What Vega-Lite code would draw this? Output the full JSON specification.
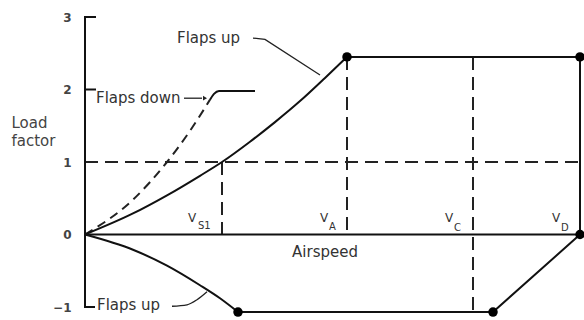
{
  "$schema": "https://vega.github.io/schema/vega-lite/v6.json",
  "width": 499,
  "height": 290,
  "autosize": "none",
  "padding": {"left": 85, "top": 17, "right": 0, "bottom": 13},
  "background": "white",
  "config": {"view": {"stroke": null}, "font": "DejaVu Sans"},
  "datasets": {
    "solid": [
      {"seg": "axis", "o": 1, "x": 11, "y": 3},
      {"seg": "axis", "o": 2, "x": 0, "y": 3},
      {"seg": "axis", "o": 3, "x": 0, "y": -1},
      {"seg": "axis", "o": 4, "x": 10, "y": -1},
      {"seg": "tick2", "o": 1, "x": 0, "y": 2},
      {"seg": "tick2", "o": 2, "x": 11, "y": 2},
      {"seg": "top", "o": 1, "x": 262, "y": 2.45},
      {"seg": "top", "o": 2, "x": 495, "y": 2.45},
      {"seg": "top", "o": 3, "x": 495, "y": 0},
      {"seg": "zero", "o": 1, "x": 0, "y": 0},
      {"seg": "zero", "o": 2, "x": 495, "y": 0},
      {"seg": "bottom", "o": 1, "x": 153, "y": -1.07},
      {"seg": "bottom", "o": 2, "x": 408, "y": -1.07},
      {"seg": "bottom", "o": 3, "x": 495, "y": 0}
    ],
    "curves": [
      {"seg": "up", "o": 1, "x": 0, "y": 0},
      {"seg": "up", "o": 2, "x": 48, "y": 0.29},
      {"seg": "up", "o": 3, "x": 82, "y": 0.54},
      {"seg": "up", "o": 4, "x": 115, "y": 0.81},
      {"seg": "up", "o": 5, "x": 137, "y": 1.0},
      {"seg": "up", "o": 6, "x": 165, "y": 1.28},
      {"seg": "up", "o": 7, "x": 190, "y": 1.55},
      {"seg": "up", "o": 8, "x": 215, "y": 1.84},
      {"seg": "up", "o": 9, "x": 240, "y": 2.16},
      {"seg": "up", "o": 10, "x": 262, "y": 2.45},
      {"seg": "fdhook", "o": 1, "x": 125, "y": 1.86},
      {"seg": "fdhook", "o": 2, "x": 129, "y": 1.94},
      {"seg": "fdhook", "o": 3, "x": 134, "y": 1.98},
      {"seg": "fdhook", "o": 4, "x": 170, "y": 1.98},
      {"seg": "neg", "o": 1, "x": 0, "y": 0},
      {"seg": "neg", "o": 2, "x": 48, "y": -0.21},
      {"seg": "neg", "o": 3, "x": 82, "y": -0.43},
      {"seg": "neg", "o": 4, "x": 115, "y": -0.7},
      {"seg": "neg", "o": 5, "x": 135, "y": -0.88},
      {"seg": "neg", "o": 6, "x": 153, "y": -1.07}
    ],
    "dashed": [
      {"seg": "n1", "o": 1, "x": 0, "y": 1},
      {"seg": "n1", "o": 2, "x": 499, "y": 1},
      {"seg": "vs1", "o": 1, "x": 137, "y": 1},
      {"seg": "vs1", "o": 2, "x": 137, "y": 0},
      {"seg": "va", "o": 1, "x": 262, "y": 2.45},
      {"seg": "va", "o": 2, "x": 262, "y": 0},
      {"seg": "vc", "o": 1, "x": 388, "y": 2.45},
      {"seg": "vc", "o": 2, "x": 388, "y": -1.07}
    ],
    "fd": [
      {"o": 1, "x": 0, "y": 0},
      {"o": 2, "x": 48, "y": 0.48},
      {"o": 3, "x": 82, "y": 1.0},
      {"o": 4, "x": 105, "y": 1.43},
      {"o": 5, "x": 125, "y": 1.86}
    ],
    "leaders": [
      {"seg": "l1", "o": 1, "x": 168, "y": 2.71},
      {"seg": "l1", "o": 2, "x": 180, "y": 2.69},
      {"seg": "l1", "o": 3, "x": 235, "y": 2.2},
      {"seg": "l2", "o": 1, "x": 99, "y": 1.88},
      {"seg": "l2", "o": 2, "x": 117, "y": 1.88}
    ],
    "leaderCurve": [
      {"o": 1, "x": 87, "y": -0.99},
      {"o": 2, "x": 102, "y": -0.97},
      {"o": 3, "x": 112, "y": -0.9},
      {"o": 4, "x": 122, "y": -0.79}
    ],
    "arrow": [{"x": 120, "y": 1.88}],
    "dots": [
      {"x": 262, "y": 2.45},
      {"x": 495, "y": 2.45},
      {"x": 495, "y": 0},
      {"x": 153, "y": -1.07},
      {"x": 408, "y": -1.07}
    ],
    "notes": [
      {"x": 92, "y": 2.71, "text": "Flaps up"},
      {"x": 11, "y": 1.88, "text": "Flaps down"},
      {"x": 12, "y": -0.97, "text": "Flaps up"}
    ],
    "center": [{"x": 240, "y": -0.24, "text": "Airspeed"}],
    "vmain": [
      {"x": 103, "y": 0.23, "text": "V"},
      {"x": 235, "y": 0.23, "text": "V"},
      {"x": 360, "y": 0.23, "text": "V"},
      {"x": 467, "y": 0.23, "text": "V"}
    ],
    "vsub": [
      {"x": 113, "y": 0.12, "text": "S1"},
      {"x": 244, "y": 0.11, "text": "A"},
      {"x": 369, "y": 0.09, "text": "C"},
      {"x": 476, "y": 0.09, "text": "D"}
    ]
  },
  "encoding": {
    "x": {"field": "x", "type": "quantitative", "scale": {"domain": [0, 499], "nice": false, "zero": false}, "axis": null},
    "y": {
      "field": "y", "type": "quantitative",
      "scale": {"domain": [-1, 3], "nice": false, "zero": false},
      "axis": {
        "values": [-1, 0, 1, 2, 3], "domain": false, "ticks": false, "grid": false,
        "labelPadding": 14, "labelFontSize": 12, "labelColor": "#444", "labelFontWeight": "bold",
        "title": ["Load", "factor"], "titleAngle": 0, "titleX": -74, "titleY": 105,
        "titleAlign": "left", "titleBaseline": "middle", "titleFontSize": 15,
        "titleFontWeight": "normal", "titleColor": "#444", "titleLineHeight": 18
      }
    }
  },
  "layer": [
    {
      "data": {"name": "dashed"},
      "mark": {"type": "line", "color": "#222", "strokeWidth": 2, "strokeDash": [13, 7]},
      "encoding": {
        "detail": {"field": "seg"},
        "order": {"field": "o", "type": "quantitative"}
      }
    },
    {
      "data": {"name": "fd"},
      "mark": {"type": "line", "color": "#222", "strokeWidth": 2, "strokeDash": [9, 6], "interpolate": "monotone"},
      "encoding": {
        "order": {"field": "o", "type": "quantitative"}
      }
    },
    {
      "data": {"name": "solid"},
      "mark": {"type": "line", "color": "#111", "strokeWidth": 2},
      "encoding": {
        "detail": {"field": "seg"},
        "order": {"field": "o", "type": "quantitative"}
      }
    },
    {
      "data": {"name": "curves"},
      "mark": {"type": "line", "color": "#111", "strokeWidth": 2, "interpolate": "monotone"},
      "encoding": {
        "detail": {"field": "seg"},
        "order": {"field": "o", "type": "quantitative"}
      }
    },
    {
      "data": {"name": "leaders"},
      "mark": {"type": "line", "color": "#222", "strokeWidth": 1.3},
      "encoding": {
        "detail": {"field": "seg"},
        "order": {"field": "o", "type": "quantitative"}
      }
    },
    {
      "data": {"name": "leaderCurve"},
      "mark": {"type": "line", "color": "#222", "strokeWidth": 1.3, "interpolate": "monotone"},
      "encoding": {
        "order": {"field": "o", "type": "quantitative"}
      }
    },
    {
      "data": {"name": "arrow"},
      "mark": {"type": "point", "shape": "triangle-right", "filled": true, "color": "#222", "size": 22, "opacity": 1}
    },
    {
      "data": {"name": "dots"},
      "mark": {"type": "point", "shape": "circle", "filled": true, "color": "#000", "size": 90, "opacity": 1}
    },
    {
      "data": {"name": "notes"},
      "mark": {"type": "text", "align": "left", "baseline": "middle", "fontSize": 15, "color": "#333"},
      "encoding": {"text": {"field": "text"}}
    },
    {
      "data": {"name": "center"},
      "mark": {"type": "text", "align": "center", "baseline": "middle", "fontSize": 15, "color": "#333"},
      "encoding": {"text": {"field": "text"}}
    },
    {
      "data": {"name": "vmain"},
      "mark": {"type": "text", "align": "left", "baseline": "middle", "fontSize": 12, "color": "#333"},
      "encoding": {"text": {"field": "text"}}
    },
    {
      "data": {"name": "vsub"},
      "mark": {"type": "text", "align": "left", "baseline": "middle", "fontSize": 10, "color": "#333"},
      "encoding": {"text": {"field": "text"}}
    }
  ]
}
